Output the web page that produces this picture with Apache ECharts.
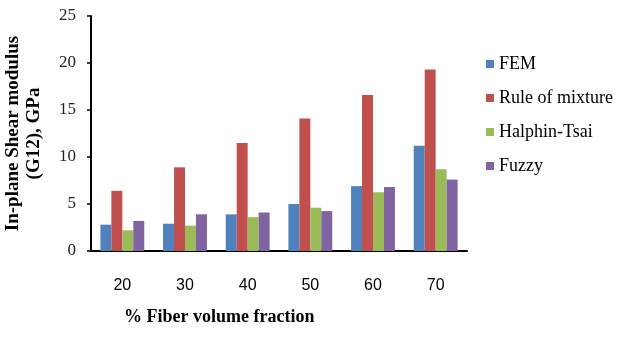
<!DOCTYPE html>
<html>
<head>
<meta charset="utf-8">
<script src="https://cdn.jsdelivr.net/npm/echarts@6/dist/echarts.min.js"></script>
<style>
  html, body { margin: 0; padding: 0; background: #fff; }
  #chart { width: 623px; height: 340px; }
</style>
</head>
<body>
<div id="chart"></div>
<script>
// 纤维体积分数
var fractions = ['20', '30', '40', '50', '60', '70'];
var seriesNames = ['FEM', 'Rule of mixture', 'Halphin-Tsai', 'Fuzzy'];

var femVals = [2.8, 2.9, 3.9, 5.0, 6.9, 11.2];
var ruleVals = [6.4, 8.9, 11.5, 14.1, 16.6, 19.3];
var halphinVals = [2.2, 2.7, 3.6, 4.6, 6.25, 8.7];
var fuzzyVals = [3.2, 3.9, 4.1, 4.25, 6.8, 7.6];

var colors = ['#4F81BD', '#C0504D', '#9BBB59', '#8064A2'];
var allVals = [femVals, ruleVals, halphinVals, fuzzyVals];

var oChart = echarts.init(document.getElementById('chart'));

var series = [];
for (var i = 0; i < seriesNames.length; i++) {
    series.push({
        name: seriesNames[i],
        type: 'bar',
        barGap: '0%',
        barCategoryGap: '30%',
        itemStyle: { color: colors[i] },
        data: allVals[i]
    });
}

var chartopt = {
    backgroundColor: '#fff',
    animation: false,
    color: colors,
    // x轴标题不居中,用title摆放
    title: {
        text: '% Fiber volume fraction',
        left: 124,
        top: 308,
        padding: 0,
        textStyle: {
            fontFamily: 'Liberation Serif',
            fontWeight: 'bold',
            fontSize: 18,
            color: '#000'
        }
    },
    legend: {
        orient: 'vertical',
        left: 481,
        top: 50,
        itemWidth: 8,
        itemHeight: 8,
        itemGap: 16,
        icon: 'rect',
        textStyle: {
            fontFamily: 'Liberation Serif',
            fontSize: 18,
            color: '#000'
        },
        data: seriesNames
    },
    grid: {
        left: 91,
        right: 156,
        top: 16,
        bottom: 89,
        outerBoundsMode: 'none'
    },
    xAxis: {
        type: 'category',
        data: fractions,
        axisLine: { lineStyle: { color: '#000', width: 2 } },
        axisTick: { show: false },
        axisLabel: {
            margin: 27,
            fontFamily: 'Liberation Sans',
            fontSize: 16,
            color: '#000'
        }
    },
    yAxis: {
        type: 'value',
        min: 0,
        max: 25,
        interval: 5,
        name: 'In-plane Shear modulus\n(G12), GPa',
        nameLocation: 'middle',
        nameRotate: 90,
        nameGap: 46,
        nameTextStyle: {
            fontFamily: 'Liberation Serif',
            fontWeight: 'bold',
            fontSize: 19,
            lineHeight: 21,
            color: '#000'
        },
        splitLine: { show: false },
        axisLine: { show: true, lineStyle: { color: '#000', width: 2 } },
        axisTick: { show: true, length: 4, lineStyle: { color: '#000', width: 1.5 } },
        axisLabel: {
            margin: 15,
            fontFamily: 'Liberation Serif',
            fontSize: 17,
            color: '#222'
        }
    },
    series: series
};

oChart.setOption(chartopt);
</script>
</body>
</html>
